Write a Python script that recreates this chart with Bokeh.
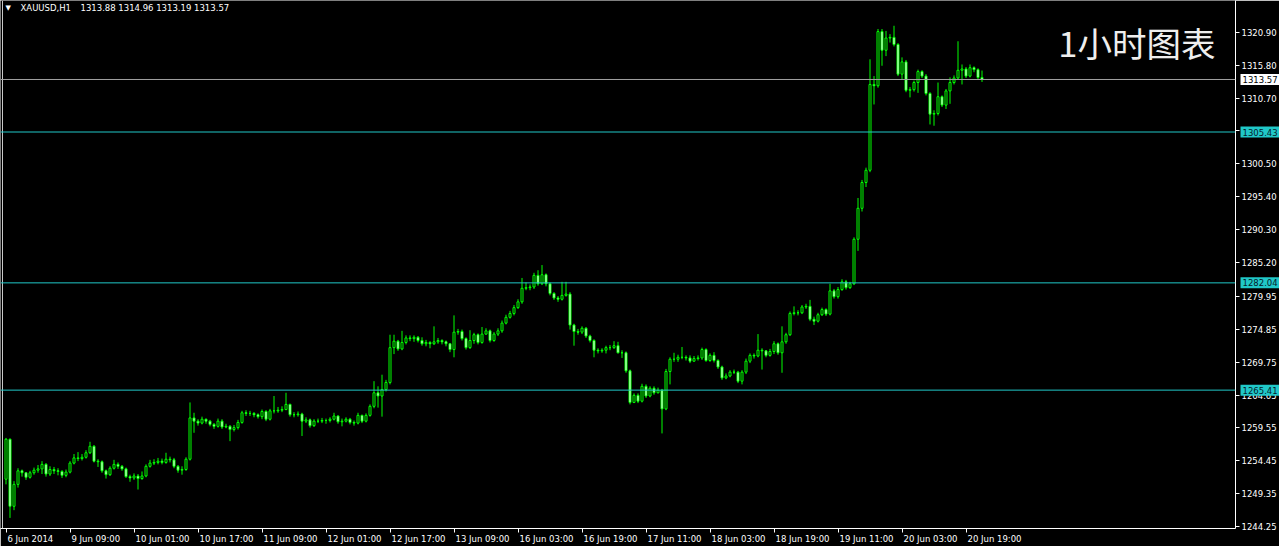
import numpy as np
from bokeh.plotting import figure
from bokeh.layouts import row
from bokeh.models import (ColumnDataSource, Span, Label, FixedTicker, Range1d,
                          PrintfTickFormatter)
from bokeh.embed import file_html
from bokeh.resources import INLINE

# ---------------- data (XAUUSD H1) ----------------
bar_index = list(range(245))

close = [
    1257.8, 1247.4, 1250.8, 1252.9, 1252.6, 1251.9, 1252.6, 1253.0, 1253.2, 1253.9,
    1252.4, 1253.1, 1252.9, 1252.8, 1252.2, 1252.7, 1254.1, 1254.9, 1254.8, 1255.0,
    1255.7, 1256.7, 1254.4, 1254.3, 1252.9, 1252.3, 1253.3, 1253.9, 1253.6, 1253.2,
    1252.0, 1251.8, 1252.1, 1251.7, 1252.1, 1253.6, 1254.1, 1254.2, 1254.4, 1254.2,
    1254.7, 1254.6, 1253.6, 1253.0, 1253.1, 1254.7, 1261.1, 1260.6, 1260.3, 1260.9,
    1260.6, 1260.1, 1259.8, 1260.6, 1259.7, 1259.8, 1259.3, 1259.6, 1260.4, 1261.9,
    1261.8, 1261.8, 1261.6, 1261.3, 1262.1, 1260.9, 1262.2, 1262.2, 1262.3, 1262.4,
    1263.2, 1261.6, 1261.6, 1261.7, 1260.6, 1260.8, 1259.9, 1260.6, 1260.6, 1260.7,
    1260.7, 1260.9, 1261.4, 1260.5, 1260.6, 1260.9, 1260.4, 1260.3, 1261.5, 1260.6,
    1261.5, 1262.9, 1265.0, 1264.5, 1265.5, 1266.6, 1272.0, 1273.0, 1271.8, 1272.8,
    1273.5, 1273.4, 1273.6, 1273.1, 1272.6, 1272.8, 1272.6, 1272.9, 1273.1, 1272.9,
    1272.6, 1271.7, 1274.4, 1274.5, 1273.4, 1272.0, 1273.1, 1274.0, 1272.8, 1274.1,
    1274.6, 1273.1, 1274.1, 1274.6, 1275.8, 1276.7, 1277.3, 1278.2, 1279.1, 1281.2,
    1281.3, 1281.4, 1283.2, 1281.9, 1283.3, 1281.9, 1280.4, 1279.7, 1279.5, 1280.1,
    1280.3, 1275.5, 1274.5, 1274.4, 1275.0, 1273.8, 1273.1, 1271.6, 1271.5, 1271.6,
    1272.0, 1272.0, 1272.3, 1271.2, 1271.2, 1268.4, 1263.5, 1264.6, 1263.7, 1266.0,
    1264.5, 1265.7, 1265.0, 1265.4, 1262.5, 1268.3, 1270.2, 1270.2, 1270.5, 1270.5,
    1270.4, 1269.9, 1270.3, 1270.4, 1271.7, 1270.0, 1270.8, 1270.0, 1269.0, 1267.3,
    1267.6, 1268.2, 1268.2, 1266.8, 1268.2, 1269.9, 1270.8, 1270.7, 1271.6, 1271.5,
    1270.8, 1271.4, 1272.6, 1271.2, 1272.9, 1274.0, 1277.3, 1277.4, 1277.4, 1278.3,
    1278.4, 1276.4, 1276.1, 1277.1, 1277.9, 1277.2, 1280.8, 1279.9, 1281.0, 1282.2,
    1281.3, 1281.9, 1288.8, 1293.6, 1297.6, 1299.5, 1312.8, 1312.6, 1321.0, 1318.1,
    1320.0, 1320.1, 1319.0, 1314.4, 1316.3, 1311.9, 1312.0, 1313.1, 1314.8, 1314.1,
    1311.4, 1308.2, 1308.3, 1310.9, 1309.6, 1311.8, 1313.1, 1313.8, 1315.0, 1315.2,
    1314.1, 1315.4, 1315.1, 1313.88, 1313.57,
]

high = [
    1258.0, 1257.9, 1251.3, 1253.3, 1253.1, 1252.7, 1252.9, 1253.4, 1253.8, 1254.4,
    1254.1, 1253.6, 1253.5, 1253.3, 1253.0, 1253.1, 1254.4, 1255.5, 1255.8, 1255.5,
    1256.1, 1257.4, 1256.9, 1254.7, 1254.5, 1253.1, 1253.6, 1254.6, 1254.2, 1253.8,
    1253.4, 1252.3, 1252.5, 1252.4, 1252.8, 1253.9, 1254.6, 1254.7, 1254.9, 1254.8,
    1255.7, 1255.1, 1254.9, 1253.8, 1253.6, 1255.0, 1263.5, 1261.9, 1260.9, 1261.3,
    1261.0, 1260.8, 1260.3, 1261.0, 1260.9, 1260.2, 1260.0, 1260.0, 1260.8, 1262.2,
    1262.3, 1262.2, 1262.0, 1261.8, 1262.4, 1262.3, 1262.5, 1264.5, 1262.8, 1262.9,
    1265.0, 1263.3, 1262.0, 1262.1, 1261.9, 1261.2, 1261.0, 1260.9, 1261.0, 1261.1,
    1261.0, 1261.2, 1261.9, 1261.5, 1261.0, 1261.2, 1261.1, 1260.7, 1261.9, 1261.6,
    1261.8, 1263.2, 1266.8, 1266.0, 1267.8, 1267.0, 1274.0, 1274.0, 1273.2, 1274.6,
    1273.9, 1273.9, 1273.9, 1273.8, 1273.6, 1273.2, 1273.0, 1275.3, 1273.5, 1273.3,
    1273.1, 1272.7, 1277.0, 1274.9, 1274.8, 1273.6, 1274.7, 1274.3, 1274.2, 1275.2,
    1275.0, 1274.8, 1274.4, 1275.0, 1276.2, 1277.1, 1277.7, 1278.6, 1279.5, 1282.8,
    1282.1, 1281.8, 1283.6, 1284.0, 1284.8, 1283.5, 1282.1, 1280.6, 1280.0, 1282.2,
    1282.2, 1280.6, 1275.7, 1274.9, 1275.3, 1275.2, 1274.0, 1273.3, 1271.9, 1271.9,
    1272.3, 1272.4, 1273.0, 1272.9, 1271.6, 1271.4, 1268.6, 1264.9, 1264.9, 1266.4,
    1266.3, 1266.0, 1266.0, 1265.8, 1265.6, 1268.7, 1270.5, 1271.2, 1270.9, 1272.1,
    1270.8, 1270.8, 1270.7, 1270.8, 1272.0, 1271.9, 1271.1, 1271.3, 1270.2, 1269.2,
    1268.0, 1268.5, 1268.6, 1268.4, 1268.5, 1270.3, 1271.1, 1271.1, 1274.1, 1271.9,
    1271.6, 1271.8, 1273.0, 1272.8, 1275.3, 1274.3, 1277.6, 1278.4, 1277.8, 1278.6,
    1278.8, 1279.4, 1276.8, 1277.4, 1278.2, 1278.1, 1281.9, 1281.1, 1281.4, 1282.6,
    1282.5, 1282.2, 1289.1, 1295.2, 1298.0, 1299.9, 1316.7, 1314.1, 1321.4, 1321.4,
    1321.1, 1320.6, 1321.9, 1319.2, 1317.0, 1316.6, 1312.4, 1313.4, 1315.1, 1315.0,
    1314.4, 1311.6, 1308.8, 1313.1, 1311.1, 1312.1, 1313.9, 1314.2, 1319.5, 1315.9,
    1315.5, 1315.9, 1315.6, 1315.3, 1314.96,
]

low = [
    1250.8, 1245.6, 1246.8, 1250.3, 1252.0, 1251.5, 1251.7, 1252.3, 1252.6, 1252.4,
    1252.0, 1252.1, 1252.4, 1252.2, 1251.8, 1251.9, 1252.5, 1253.9, 1254.4, 1254.5,
    1254.8, 1255.5, 1254.2, 1253.5, 1252.6, 1251.7, 1252.1, 1253.1, 1253.2, 1252.9,
    1251.8, 1251.2, 1251.5, 1250.0, 1251.5, 1251.9, 1253.4, 1253.8, 1253.9, 1253.9,
    1254.0, 1254.2, 1253.3, 1252.6, 1252.3, 1252.9, 1254.5, 1258.8, 1259.9, 1260.1,
    1260.2, 1259.8, 1259.4, 1259.6, 1259.4, 1259.5, 1257.5, 1259.0, 1259.3, 1260.2,
    1261.4, 1261.4, 1261.2, 1261.0, 1260.9, 1260.6, 1260.7, 1261.8, 1261.9, 1262.0,
    1262.3, 1261.3, 1261.2, 1261.3, 1258.3, 1260.3, 1259.6, 1259.7, 1260.3, 1260.3,
    1260.2, 1260.4, 1260.7, 1260.2, 1259.8, 1260.4, 1260.1, 1259.9, 1260.1, 1260.3,
    1260.4, 1261.3, 1262.6, 1262.7, 1261.3, 1265.2, 1266.3, 1271.0, 1271.5, 1271.6,
    1272.5, 1273.0, 1272.9, 1272.8, 1272.3, 1272.2, 1271.9, 1272.4, 1272.6, 1272.5,
    1272.2, 1271.3, 1270.5, 1274.0, 1273.1, 1271.7, 1271.8, 1272.6, 1272.5, 1272.6,
    1274.0, 1272.8, 1272.9, 1273.8, 1274.3, 1275.6, 1276.5, 1277.0, 1278.0, 1278.8,
    1280.9, 1280.9, 1281.1, 1281.6, 1281.7, 1281.5, 1280.1, 1279.4, 1279.1, 1279.3,
    1279.9, 1274.8, 1272.3, 1274.0, 1274.1, 1273.5, 1272.8, 1270.5, 1271.1, 1271.2,
    1271.1, 1271.6, 1271.8, 1271.1, 1270.4, 1268.1, 1263.2, 1263.4, 1263.4, 1263.5,
    1264.2, 1264.3, 1264.7, 1264.9, 1258.7, 1262.3, 1266.3, 1269.8, 1269.8, 1270.2,
    1270.0, 1269.6, 1269.8, 1270.0, 1270.1, 1269.8, 1269.8, 1269.7, 1268.7, 1267.0,
    1267.1, 1267.4, 1267.9, 1266.5, 1266.3, 1267.9, 1269.6, 1270.3, 1270.5, 1268.6,
    1270.5, 1270.6, 1271.0, 1270.9, 1268.1, 1272.6, 1273.8, 1277.0, 1277.0, 1277.2,
    1278.0, 1276.1, 1275.5, 1275.9, 1276.9, 1276.9, 1277.0, 1279.6, 1279.6, 1280.8,
    1281.0, 1281.1, 1281.7, 1287.0, 1293.1, 1296.9, 1299.2, 1309.7, 1312.3, 1315.7,
    1317.2, 1319.3, 1318.7, 1314.1, 1313.6, 1311.6, 1310.8, 1311.7, 1311.5, 1313.8,
    1311.1, 1306.6, 1306.4, 1308.0, 1309.3, 1309.0, 1309.8, 1312.8, 1313.5, 1312.8,
    1313.8, 1313.9, 1314.7, 1313.6, 1313.19,
]

first_open = 1251.6
open_ = [first_open] + close[:-1]

time_tick_bars = [0, 16, 32, 48, 64, 80, 96, 112, 128, 144, 160, 176, 192, 208, 224, 240]
time_tick_labels = ["6 Jun 2014", "9 Jun 09:00", "10 Jun 01:00", "10 Jun 17:00",
                    "11 Jun 09:00", "12 Jun 01:00", "12 Jun 17:00", "13 Jun 09:00",
                    "16 Jun 03:00", "16 Jun 19:00", "17 Jun 11:00", "18 Jun 03:00",
                    "18 Jun 19:00", "19 Jun 11:00", "20 Jun 03:00", "20 Jun 19:00"]

price_ticks = [1244.25, 1249.35, 1254.45, 1259.55, 1264.65, 1269.75, 1274.85, 1279.95,
               1285.20, 1290.30, 1295.40, 1300.50, 1305.60, 1310.70, 1315.80, 1320.90]

level_lines = [1305.43, 1282.04, 1265.41]
current_price = 1313.57
symbol_text = "XAUUSD,H1"
ohlc_text = "1313.88 1314.96 1313.19 1313.57"
chart_title = "1小时图表"

# ---------------- styling ----------------
GREEN = "#00ff00"
CYAN = "#20c8c8"
FONT = "DejaVu Sans"
FS = 8.5          # axis font size, px
PX_PER_BAR = 4
FRAME_W, FRAME_H = 1235, 528
RIGHT_W = 42      # width of the price-axis panel

o = np.array(open_)
c = np.array(close)
src = ColumnDataSource(dict(
    x=bar_index, high=high, low=low,
    top=np.maximum(o, c), bottom=np.minimum(o, c),
    fill=np.where(c >= o, "#000000", "#ffffff"),
))

X0 = -1.375
X1 = X0 + FRAME_W / PX_PER_BAR
PX_PER_USD = 6.45
Y1 = 1325.818
Y0 = Y1 - FRAME_H / PX_PER_USD

p = figure(frame_width=FRAME_W, frame_height=FRAME_H,
           x_range=Range1d(X0, X1), y_range=Range1d(Y0, Y1),
           y_axis_location="right", output_backend="svg", toolbar_location=None,
           background_fill_color="#000000", border_fill_color="#000000",
           min_border_left=0, min_border_top=0, min_border_right=RIGHT_W, min_border_bottom=0)
p.outline_line_color = None
p.grid.visible = False

# DejaVu Sans advance widths (em), used to left-align each time label after its tick
W = {" ": 0.318, "J": 0.295, "u": 0.634, "n": 0.634, ":": 0.337}
def text_w(s):
    return sum(W.get(ch, 0.636) for ch in s) * FS

lab_pos = [round(b + (text_w(t) / 2 + 1.5) / PX_PER_BAR, 3)
           for b, t in zip(time_tick_bars, time_tick_labels)]

xa = p.xaxis[0]
xa.ticker = FixedTicker(ticks=lab_pos, minor_ticks=time_tick_bars)
xa.major_label_overrides = {pos: t for pos, t in zip(lab_pos, time_tick_labels)}
xa.major_tick_line_color = None
xa.minor_tick_line_color = "#ffffff"
xa.minor_tick_in = 0
xa.minor_tick_out = 4
xa.major_tick_in = 0
xa.major_tick_out = 4
xa.major_label_standoff = 1

ya = p.yaxis[0]
ya.ticker = FixedTicker(ticks=price_ticks)
ya.formatter = PrintfTickFormatter(format="%.2f")
ya.major_tick_line_color = "#ffffff"
ya.minor_tick_line_color = None
ya.major_tick_in = 0
ya.major_tick_out = 4
ya.major_label_standoff = 2

for ax in (xa, ya):
    ax.axis_line_color = "#ffffff"
    ax.major_label_text_color = "#ffffff"
    ax.major_label_text_font = FONT
    ax.major_label_text_font_size = f"{FS}px"

# left border line of the chart window
p.add_layout(Span(location=X0 + 0.5, dimension="height", line_color="#c8c8c8", line_width=1))

# horizontal levels
for lv in level_lines:
    p.add_layout(Span(location=lv, dimension="width", line_color=CYAN, line_width=1))
p.add_layout(Span(location=current_price, dimension="width", line_color="#a0a0a0", line_width=1))

# candles
p.segment(x0="x", y0="low", x1="x", y1="high", source=src, line_color=GREEN, line_width=1)
p.vbar(x="x", width=0.5, top="top", bottom="bottom", source=src,
       fill_color="fill", line_color=GREEN, line_width=1)

# header
p.add_layout(Label(x=X0, y=Y1, x_offset=5, y_offset=-7, text="▼", text_baseline="middle",
                   text_font=FONT, text_font_size="7px", text_color="#ffffff"))
p.add_layout(Label(x=X0, y=Y1, x_offset=20, y_offset=-7, text=symbol_text,
                   text_baseline="middle", text_font=FONT, text_font_size=f"{FS}px",
                   text_color="#ffffff"))
p.add_layout(Label(x=X0, y=Y1, x_offset=80, y_offset=-7, text=ohlc_text,
                   text_baseline="middle", text_font=FONT, text_font_size=f"{FS}px",
                   text_color="#ffffff"))

# big title
p.add_layout(Label(x=X1, y=Y1, x_offset=-20, y_offset=-41, text=chart_title,
                   text_align="right", text_baseline="middle",
                   text_font="Noto Sans CJK SC", text_font_size="34.5px",
                   text_color="#eeeeee"))

# transparent strip laid over the price axis, carrying the price tags
tags = figure(frame_width=RIGHT_W, frame_height=FRAME_H, x_range=Range1d(0, 1),
              y_range=p.y_range, x_axis_location=None, y_axis_location=None,
              output_backend="svg", toolbar_location=None,
              background_fill_color=None, border_fill_color=None,
              min_border_left=0, min_border_top=0, min_border_right=0, min_border_bottom=0)
tags.outline_line_color = None
tags.grid.visible = False
for lv, bg, fg in [(l, CYAN, "#06202a") for l in level_lines] + [(current_price, "#ffffff", "#000000")]:
    tags.add_layout(Label(x=0, y=lv, x_offset=3, text=f"{lv:.2f}", text_baseline="middle",
                          text_align="left", text_font=FONT, text_font_size=f"{FS}px",
                          text_color=fg, background_fill_color=bg, padding=2))
tags.margin = (0, 0, 0, -RIGHT_W)

layout = row(p, tags, spacing=0)
open("out.html", "w").write(file_html(layout, INLINE))
